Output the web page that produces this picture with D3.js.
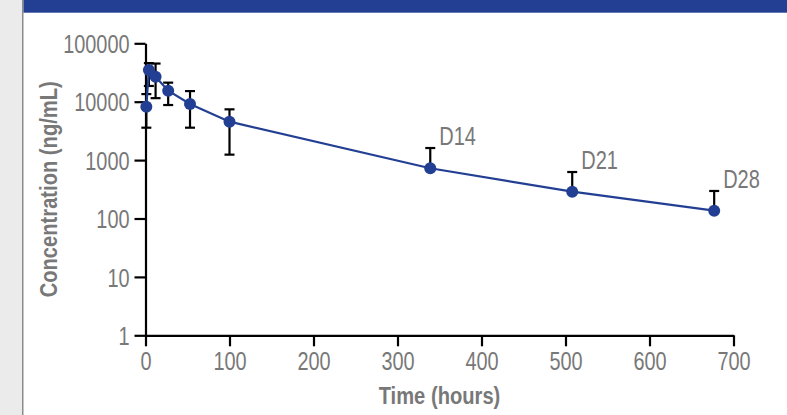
<!DOCTYPE html>
<html>
<head>
<meta charset="utf-8">
<script src="https://cdn.jsdelivr.net/npm/d3@7"></script>
<style>
  html, body { margin: 0; padding: 0; background: #ffffff; }
  svg { display: block; }
</style>
</head>
<body>
<svg id="chart" width="787" height="415"></svg>
<script>
// ---- data ----
const hours      = [1, 4, 12, 27, 53, 100, 339, 508, 677];
const conc       = [8200, 34900, 26800, 15400, 9140, 4550, 724, 288, 136];
const errUpper   = [13500, 45800, 45000, 21200, 15200, 7400, 1610, 625, 296];
const errLower   = [3590, 18600, 11500, 8770, 3590, 1240, null, null, null];
const pointLabels = ["", "", "", "", "", "", "D14", "D21", "D28"];
const xTicks = [0, 100, 200, 300, 400, 500, 600, 700];
const yTicks = [1, 10, 100, 1000, 10000, 100000];
const xTitle = "Time (hours)";
const yTitle = "Concentration (ng/mL)";

const W = 787, H = 415;
const blue = "#233f93";
const grey = "#787878";
const font = "'Liberation Sans', Arial, sans-serif";
const sx = 0.78;      // narrow font emulation
const sxTitle = 0.84;

const svg = d3.select("#chart");

// page frame
svg.append("rect").attr("x", 0).attr("y", 0).attr("width", 22).attr("height", H).attr("fill", "#ebebeb");
svg.append("rect").attr("x", 22).attr("y", 0).attr("width", 1.5).attr("height", H).attr("fill", "#8c8c8c");
svg.append("rect").attr("x", 23.5).attr("y", 0).attr("width", W - 23.5).attr("height", 12.7).attr("fill", blue);

const x = d3.scaleLinear().domain([0, 700]).range([145.5, 733.5]);
const y = d3.scaleLog().domain([1, 100000]).range([335.3, 43.3]);

// axes
const xAxis = svg.append("g").attr("transform", `translate(0,${y(1)})`)
  .call(d3.axisBottom(x).tickValues(xTicks).tickFormat(d3.format("d")).tickSize(11).tickSizeOuter(0));
const yAxis = svg.append("g").attr("transform", `translate(${x(0)},0)`)
  .call(d3.axisLeft(y).tickValues(yTicks).tickFormat(d3.format("d")).tickSize(11).tickSizeOuter(0));

[xAxis, yAxis].forEach(g => {
  g.select(".domain").attr("stroke", "#000").attr("stroke-width", 2.2);
  g.selectAll(".tick line").attr("stroke", "#000").attr("stroke-width", 2.2);
  g.selectAll(".tick text").attr("fill", grey).style("font-family", font).style("font-size", "25.5px");
});
xAxis.selectAll(".tick text").attr("y", 35).attr("dy", 0)
  .attr("transform", `scale(${sx},1)`);
yAxis.selectAll(".tick text").attr("x", -16 / sx).attr("dy", "0.36em")
  .attr("transform", `scale(${sx},1)`);

// titles
svg.append("text")
  .attr("transform", `translate(${(x(0) + x(700)) / 2},404) scale(${sxTitle},1)`)
  .attr("text-anchor", "middle").attr("fill", grey)
  .style("font-family", font).style("font-size", "24px").style("font-weight", "bold")
  .text(xTitle);
svg.append("text")
  .attr("transform", `translate(57,${(y(1) + y(100000)) / 2}) rotate(-90) scale(${sxTitle},1)`)
  .attr("text-anchor", "middle").attr("fill", grey)
  .style("font-family", font).style("font-size", "24px").style("font-weight", "bold")
  .text(yTitle);

const pts = hours.map((h, i) => ({ h, c: conc[i], hi: errUpper[i], lo: errLower[i], lab: pointLabels[i] }));

// error bars
const eb = svg.append("g").attr("stroke", "#000").attr("stroke-width", 2.2).attr("fill", "none");
pts.forEach(p => {
  const cx = x(p.h);
  [p.hi, p.lo].forEach(v => {
    if (v == null) return;
    eb.append("line").attr("x1", cx).attr("x2", cx).attr("y1", y(p.c)).attr("y2", y(v));
    eb.append("line").attr("x1", cx - 5).attr("x2", cx + 5).attr("y1", y(v)).attr("y2", y(v));
  });
});

// line
svg.append("path").datum(pts)
  .attr("fill", "none").attr("stroke", blue).attr("stroke-width", 2.2)
  .attr("d", d3.line().x(d => x(d.h)).y(d => y(d.c)));

// dots
svg.append("g").selectAll("circle").data(pts).join("circle")
  .attr("cx", d => x(d.h)).attr("cy", d => y(d.c)).attr("r", 6).attr("fill", blue);

// point labels
svg.append("g").selectAll("text").data(pts.filter(d => d.lab)).join("text")
  .attr("transform", d => `translate(${x(d.h) + 9},${y(d.c) - 23}) scale(0.8,1)`)
  .attr("fill", grey).style("font-family", font).style("font-size", "25px")
  .text(d => d.lab);
</script>
</body>
</html>
